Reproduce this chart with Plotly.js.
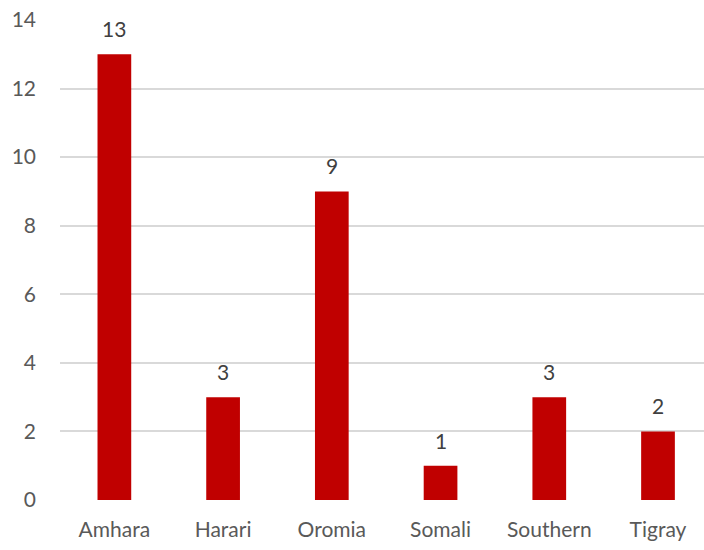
<!DOCTYPE html>
<html><head><meta charset="utf-8">
<script src="https://cdn.plot.ly/plotly-3.0.1.min.js"></script>
<style>html,body{margin:0;padding:0;background:#fff;overflow:hidden}</style>
</head><body><div id="chart" style="width:704px;height:550px"></div>
<script>
const categories = ["Amhara", "Harari", "Oromia", "Somali", "Southern", "Tigray"];
const counts = [13, 3, 9, 1, 3, 2];
const yTicks = [0, 2, 4, 6, 8, 10, 12, 14];

const font = "Lato, 'Open Sans', sans-serif";
const trace = {
  type: "bar", x: categories, y: counts,
  marker: {color: "#c00000", line: {width: 0}},
  hoverinfo: "none"
};
const annotations = categories.map((c, i) => ({
  x: c, y: counts[i], text: String(counts[i]), showarrow: false,
  xanchor: "center", yanchor: "bottom", yshift: 11,
  font: {family: font, size: 21, color: "#404040"}
}));
const layout = {
  width: 704, height: 550,
  margin: {l: 60, r: 0, t: 20, b: 50},
  paper_bgcolor: "#fff", plot_bgcolor: "#fff",
  showlegend: false, bargap: 0.69,
  font: {family: font, size: 21, color: "#595959"},
  xaxis: {type: "category", range: [-0.5, 5.423], showgrid: false, zeroline: false,
          showline: false, ticks: "", ticklabelstandoff: 15, fixedrange: true},
  yaxis: {range: [0, 14], tickvals: yTicks, ticktext: yTicks.map(String),
          showgrid: true, gridcolor: "#d9d9d9", gridwidth: 2, zeroline: false,
          showline: false, ticks: "", ticklabelstandoff: 23, fixedrange: true},
  annotations: annotations
};
Plotly.newPlot("chart", [trace], layout, {displayModeBar: false, staticPlot: true});
</script></body></html>
